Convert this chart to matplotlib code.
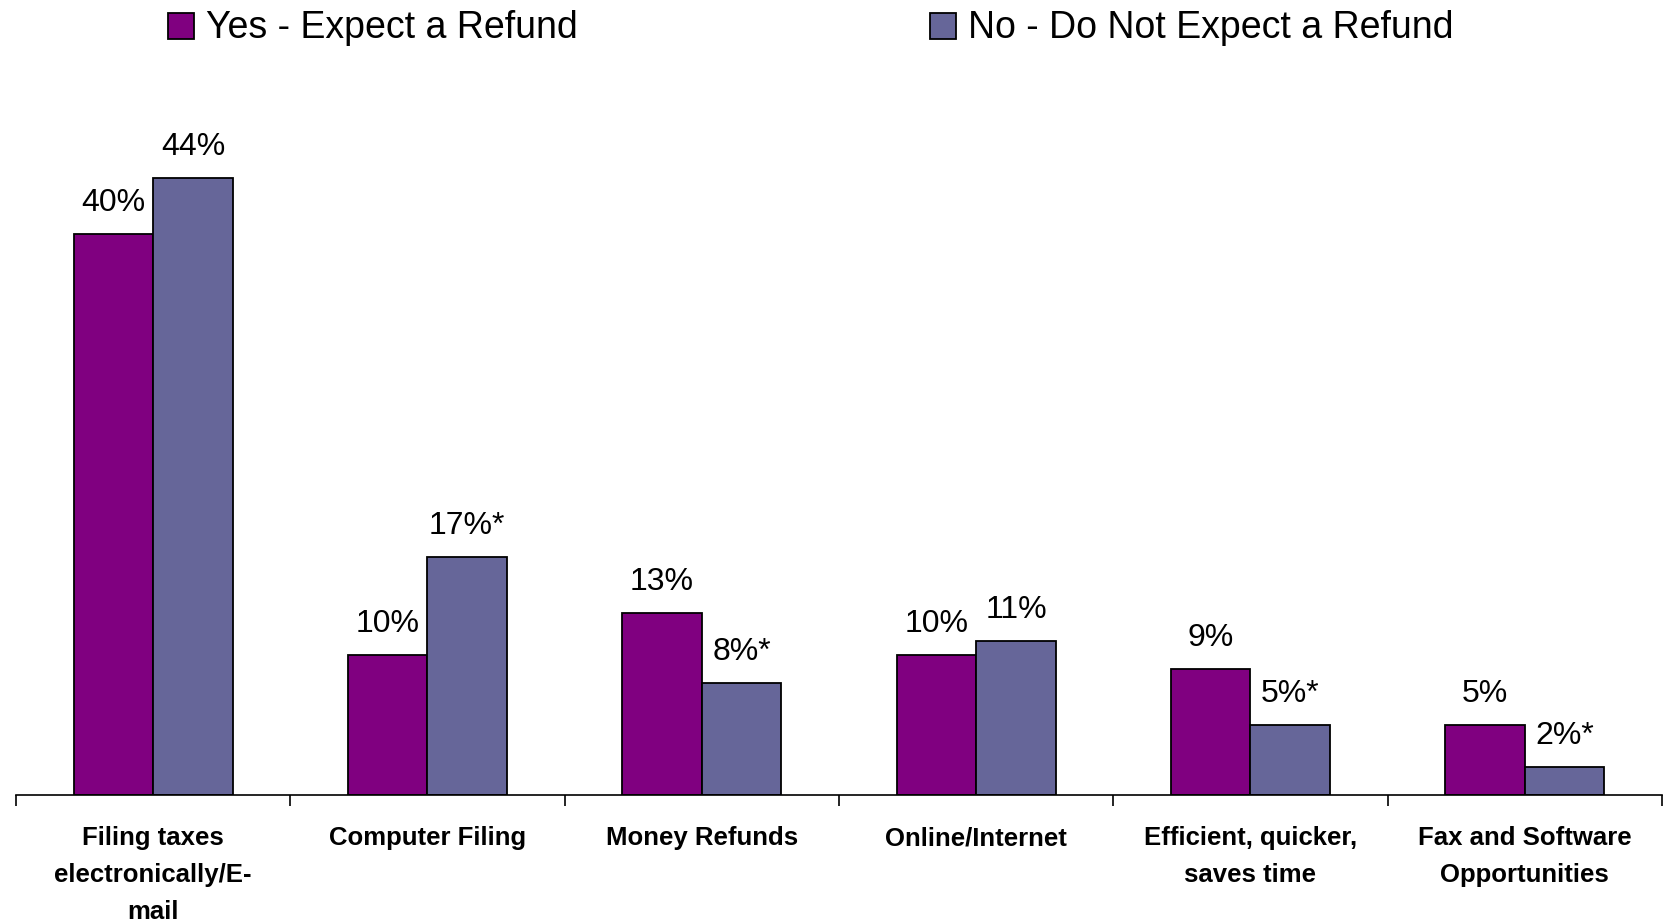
import matplotlib
matplotlib.use("Agg")
import matplotlib.pyplot as plt
from matplotlib.patches import Rectangle
import numpy as np

plt.rcParams['font.family'] = ['Liberation Sans', 'DejaVu Sans']

# --------------------
# Data
# --------------------
categories = [
    "Filing taxes\nelectronically/E-\nmail",
    "Computer Filing",
    "Money Refunds",
    "Online/Internet",
    "Efficient, quicker,\nsaves time",
    "Fax and Software\nOpportunities",
]
series_names = ["Yes - Expect a Refund", "No - Do Not Expect a Refund"]
yes_vals = [40, 10, 13, 10, 9, 5]
no_vals = [44, 17, 8, 11, 5, 2]
yes_labels = ["40%", "10%", "13%", "10%", "9%", "5%"]
no_labels = ["44%", "17%*", "8%*", "11%", "5%*", "2%*"]

colors = ["#800080", "#666699"]

# --------------------
# Plot
# --------------------
fig = plt.figure(figsize=(16.65, 9.24), dpi=100)
ax = fig.add_axes([16 / 1665, 129 / 924, 1646 / 1665, 673 / 924])

x = np.arange(len(categories))
w = 0.29

for vals, labels, col, off in [(yes_vals, yes_labels, colors[0], -w / 2),
                                (no_vals, no_labels, colors[1], w / 2)]:
    bars = ax.bar(x + off, vals, width=w, color=col, edgecolor="black",
                  linewidth=1.3, zorder=2)
    for b, lab in zip(bars, labels):
        ax.annotate(lab, (b.get_x() + b.get_width() / 2, b.get_height()),
                    xytext=(0, 16.5), textcoords="offset points",
                    ha="center", va="baseline", fontsize=23)

ax.set_xlim(-0.5, len(categories) - 0.5)
ax.set_ylim(0, 48)

for s in ["left", "right", "top"]:
    ax.spines[s].set_visible(False)
ax.spines["bottom"].set_linewidth(1.2)
ax.set_yticks([])

ax.set_xticks(x)
ax.set_xticklabels(categories, fontsize=18.5, fontweight="bold", linespacing=1.68,
                   va="top")
ax.tick_params(axis="x", which="major", length=0, pad=22.5)
ax.set_xticks(np.arange(len(categories) + 1) - 0.5, minor=True)
ax.tick_params(axis="x", which="minor", length=8, width=1.2, direction="out")

# --------------------
# Legend (top, two entries)
# --------------------
leg_y = 1 - 26 / 924
patch_x = [168 / 1665, 930 / 1665]
for name, col, px in zip(series_names, colors, patch_x):
    fig.patches.append(Rectangle((px, leg_y - 13 / 924), 26 / 1665, 26 / 924,
                                 transform=fig.transFigure, facecolor=col,
                                 edgecolor="black", linewidth=1.3))
    fig.text(px + 38 / 1665, leg_y - 2 / 924, name, fontsize=27,
             va="center", ha="left")

plt.savefig("out.png", dpi=100)
